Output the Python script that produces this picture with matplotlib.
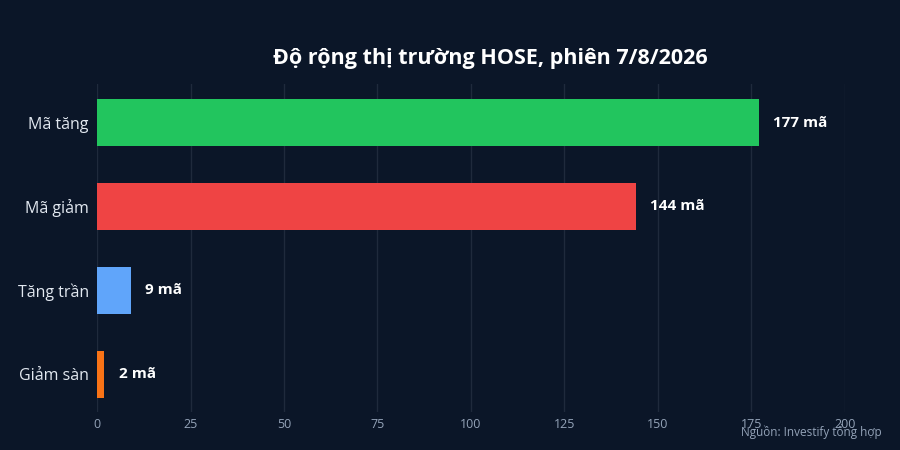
import matplotlib
matplotlib.use("Agg")
import matplotlib.pyplot as plt

# market breadth data
categories = ['Mã tăng', 'Mã giảm', 'Tăng trần', 'Giảm sàn']
counts = [177, 144, 9, 2]
bar_colors = ['#22c55e', '#ef4444', '#60a5fa', '#f97316']
x_ticks = [0, 25, 50, 75, 100, 125, 150, 175, 200]

BG = '#0b1628'

def main():
    plt.rcParams['font.family'] = ['Open Sans', 'Noto Sans', 'DejaVu Sans']
    fig = plt.figure(figsize=(9, 4.5), dpi=100, facecolor=BG)
    ax = fig.add_axes([0.1078, 0.0844, 0.831, 0.729], facecolor=BG)

    ypos = list(range(len(categories)))
    ax.barh(ypos, counts, height=0.56, color=bar_colors, zorder=3)
    for y, v in zip(ypos, counts):
        ax.text(v + 3.8, y, f'{v} mã', color='white', fontsize=11,
                fontweight='bold', va='center', ha='left', zorder=4)

    ax.set_yticks(ypos)
    ax.set_yticklabels(categories)
    ax.set_ylim(3.45, -0.46)
    ax.set_xlim(0, 200)
    ax.set_xticks(x_ticks)
    ax.tick_params(axis='y', length=0, pad=6, labelsize=11.5, labelcolor='#e2e8f0')
    ax.tick_params(axis='x', length=0, labelsize=9,
                   labelcolor='#94a3b8', pad=4)
    ax.grid(axis='x', color='#1f2a3c', linewidth=1, zorder=0)
    for s in ax.spines.values():
        s.set_visible(False)

    fig.text(0.545, 0.87, 'Độ rộng thị trường HOSE, phiên 7/8/2026',
             color='white', fontsize=15.5, fontweight='bold', ha='center', va='center')
    fig.text(0.98, 0.04, 'Nguồn: Investify tổng hợp', color='#94a3b8',
             fontsize=8.5, ha='right', va='center')

    fig.savefig('out.png', facecolor=BG)

if __name__ == "__main__":
    main()
